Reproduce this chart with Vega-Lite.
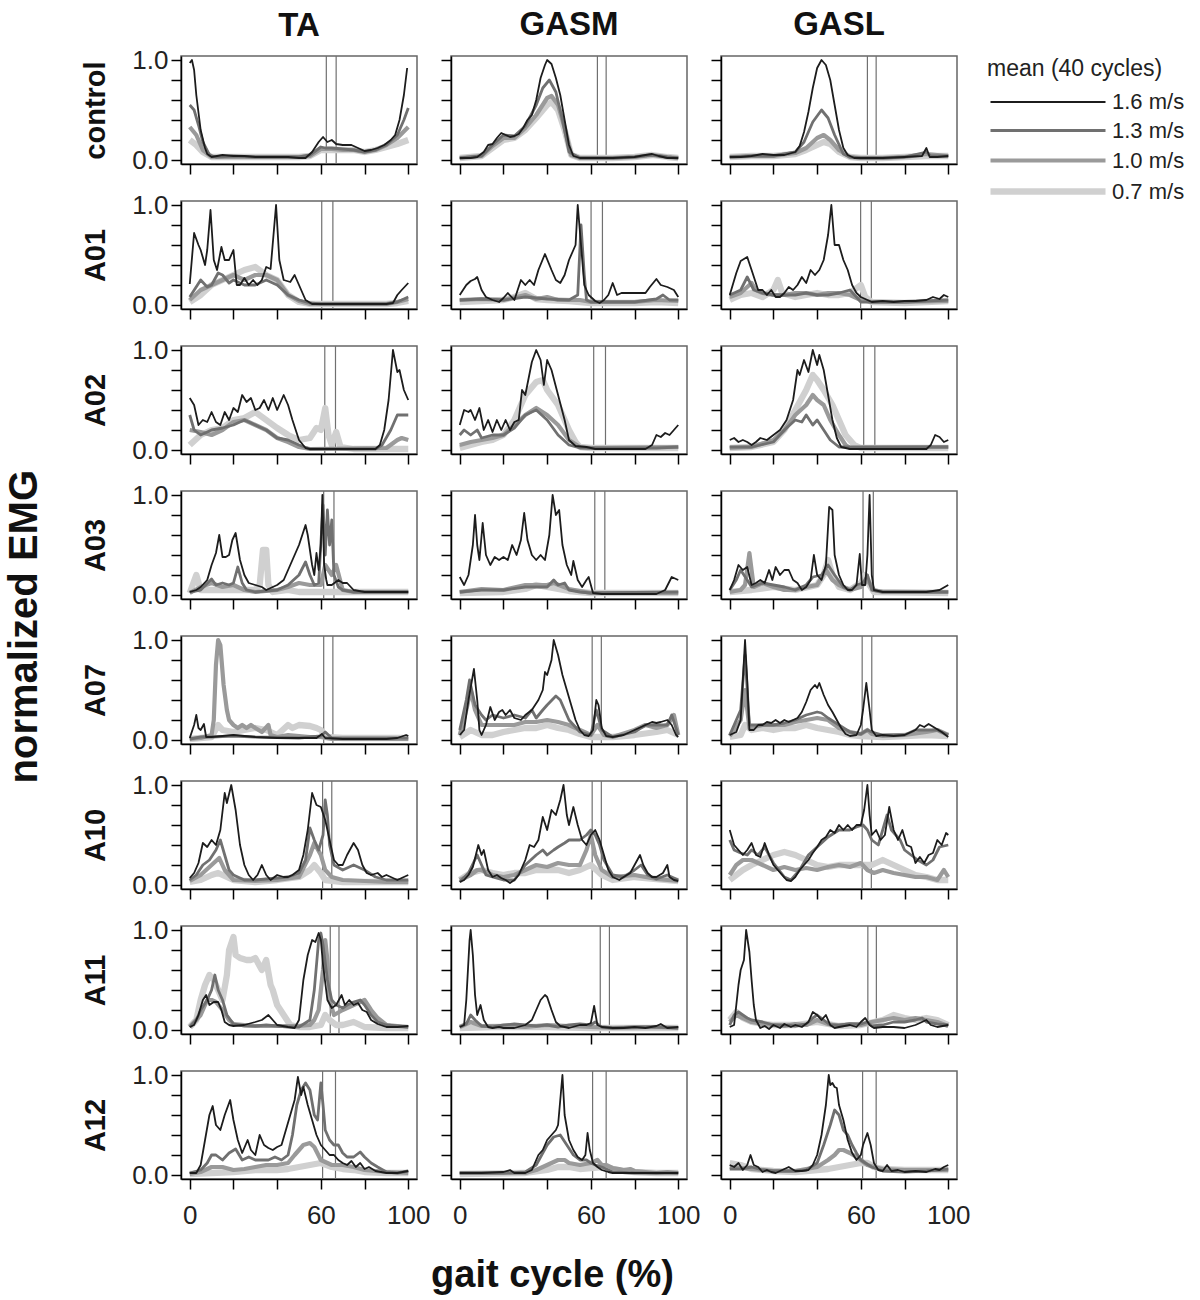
{
"$schema":"https://vega.github.io/schema/vega-lite/v6.json",
"padding":{"left":5,"top":8,"right":5,"bottom":5},
"data":{"format":{"type":"csv","parse":{"x":"number","y":"number"}},"values":"p,s,x,y\ncT,r,62.5,\ncT,r,67,\ncT,a,0,.2\ncT,a,3,.15\ncT,a,6,.08\ncT,a,10,.03\ncT,a,20,.03\ncT,a,30,.03\ncT,a,40,.03\ncT,a,50,.03\ncT,a,55,.04\ncT,a,60,.1\ncT,a,65,.1\ncT,a,70,.1\ncT,a,75,.1\ncT,a,80,.08\ncT,a,85,.1\ncT,a,90,.13\ncT,a,95,.16\ncT,a,100,.2\ncT,b,0,.33\ncT,b,3,.25\ncT,b,6,.1\ncT,b,10,.03\ncT,b,20,.03\ncT,b,30,.03\ncT,b,40,.03\ncT,b,50,.03\ncT,b,55,.04\ncT,b,60,.11\ncT,b,65,.11\ncT,b,70,.1\ncT,b,75,.1\ncT,b,80,.08\ncT,b,85,.1\ncT,b,90,.15\ncT,b,95,.22\ncT,b,100,.33\ncT,c,0,.55\ncT,c,2,.5\ncT,c,4,.35\ncT,c,6,.18\ncT,c,9,.05\ncT,c,12,.03\ncT,c,20,.04\ncT,c,30,.03\ncT,c,40,.03\ncT,c,50,.03\ncT,c,55,.05\ncT,c,60,.13\ncT,c,62,.12\ncT,c,65,.12\ncT,c,70,.11\ncT,c,75,.1\ncT,c,80,.08\ncT,c,85,.1\ncT,c,90,.15\ncT,c,95,.25\ncT,c,98,.4\ncT,c,100,.52\ncT,d,0,.97\ncT,d,1,1\ncT,d,2,.9\ncT,d,3,.65\ncT,d,5,.3\ncT,d,7,.12\ncT,d,8,.06\ncT,d,10,.03\ncT,d,15,.05\ncT,d,20,.04\ncT,d,25,.04\ncT,d,30,.03\ncT,d,35,.03\ncT,d,40,.03\ncT,d,45,.03\ncT,d,50,.02\ncT,d,53,.02\ncT,d,56,.08\ncT,d,59,.18\ncT,d,61,.23\ncT,d,63,.18\ncT,d,65,.2\ncT,d,67,.16\ncT,d,70,.15\ncT,d,74,.15\ncT,d,77,.12\ncT,d,80,.09\ncT,d,83,.1\ncT,d,86,.12\ncT,d,89,.15\ncT,d,92,.2\ncT,d,94,.25\ncT,d,96,.4\ncT,d,98,.65\ncT,d,99.5,.92\ncM,r,63,\ncM,r,67,\ncM,a,0,.02\ncM,a,10,.04\ncM,a,15,.12\ncM,a,20,.2\ncM,a,25,.22\ncM,a,30,.3\ncM,a,35,.42\ncM,a,40,.55\ncM,a,42,.58\ncM,a,45,.5\ncM,a,48,.3\ncM,a,51,.05\ncM,a,55,.02\ncM,a,60,.02\ncM,a,70,.02\ncM,a,80,.03\ncM,a,88,.05\ncM,a,95,.03\ncM,a,100,.02\ncM,b,0,.02\ncM,b,10,.04\ncM,b,15,.14\ncM,b,20,.22\ncM,b,25,.22\ncM,b,30,.32\ncM,b,35,.45\ncM,b,40,.62\ncM,b,42,.64\ncM,b,45,.55\ncM,b,48,.32\ncM,b,51,.05\ncM,b,55,.02\ncM,b,60,.02\ncM,b,70,.02\ncM,b,80,.03\ncM,b,88,.05\ncM,b,95,.03\ncM,b,100,.02\ncM,c,0,.02\ncM,c,10,.04\ncM,c,15,.15\ncM,c,20,.25\ncM,c,25,.24\ncM,c,30,.34\ncM,c,35,.55\ncM,c,38,.72\ncM,c,41,.8\ncM,c,44,.68\ncM,c,47,.4\ncM,c,50,.08\ncM,c,55,.02\ncM,c,60,.02\ncM,c,70,.02\ncM,c,80,.03\ncM,c,88,.05\ncM,c,95,.03\ncM,c,100,.02\ncM,d,0,.02\ncM,d,5,.02\ncM,d,8,.03\ncM,d,11,.08\ncM,d,13,.15\ncM,d,15,.16\ncM,d,17,.22\ncM,d,19,.27\ncM,d,21,.25\ncM,d,23,.23\ncM,d,25,.24\ncM,d,27,.26\ncM,d,29,.32\ncM,d,31,.4\ncM,d,33,.45\ncM,d,35,.6\ncM,d,37,.82\ncM,d,39,.95\ncM,d,40,1\ncM,d,42,.96\ncM,d,44,.82\ncM,d,46,.65\ncM,d,48,.4\ncM,d,50,.15\ncM,d,52,.04\ncM,d,55,.02\ncM,d,60,.02\ncM,d,70,.02\ncM,d,80,.03\ncM,d,85,.05\ncM,d,88,.06\ncM,d,91,.04\ncM,d,95,.02\ncM,d,100,.02\ncL,r,63,\ncL,r,67,\ncL,a,0,.03\ncL,a,10,.04\ncL,a,20,.04\ncL,a,30,.06\ncL,a,35,.1\ncL,a,40,.15\ncL,a,43,.18\ncL,a,46,.16\ncL,a,50,.08\ncL,a,55,.03\ncL,a,60,.02\ncL,a,70,.02\ncL,a,80,.03\ncL,a,90,.04\ncL,a,100,.04\ncL,b,0,.03\ncL,b,10,.04\ncL,b,20,.04\ncL,b,30,.07\ncL,b,35,.12\ncL,b,40,.22\ncL,b,43,.25\ncL,b,46,.2\ncL,b,50,.1\ncL,b,55,.03\ncL,b,60,.02\ncL,b,70,.02\ncL,b,80,.03\ncL,b,90,.06\ncL,b,100,.04\ncL,c,0,.03\ncL,c,10,.04\ncL,c,20,.04\ncL,c,30,.08\ncL,c,34,.18\ncL,c,38,.38\ncL,c,42,.5\ncL,c,45,.42\ncL,c,48,.25\ncL,c,52,.06\ncL,c,55,.03\ncL,c,60,.02\ncL,c,70,.02\ncL,c,80,.03\ncL,c,90,.08\ncL,c,92,.04\ncL,c,100,.04\ncL,d,0,.03\ncL,d,5,.03\ncL,d,10,.04\ncL,d,15,.06\ncL,d,20,.05\ncL,d,25,.05\ncL,d,30,.08\ncL,d,32,.14\ncL,d,34,.28\ncL,d,36,.48\ncL,d,38,.72\ncL,d,40,.92\ncL,d,42,1\ncL,d,44,.95\ncL,d,46,.8\ncL,d,48,.55\ncL,d,50,.3\ncL,d,52,.12\ncL,d,54,.05\ncL,d,57,.02\ncL,d,60,.02\ncL,d,70,.02\ncL,d,80,.03\ncL,d,88,.04\ncL,d,90,.12\ncL,d,91.5,.03\ncL,d,95,.03\ncL,d,100,.04\n1T,r,60.4,\n1T,r,65.5,\n1T,a,0,.03\n1T,a,5,.1\n1T,a,10,.2\n1T,a,15,.25\n1T,a,20,.3\n1T,a,25,.35\n1T,a,30,.38\n1T,a,35,.3\n1T,a,40,.25\n1T,a,45,.1\n1T,a,50,.03\n1T,a,55,.01\n1T,a,70,.01\n1T,a,90,.01\n1T,a,95,.02\n1T,a,100,.04\n1T,b,0,.05\n1T,b,5,.15\n1T,b,10,.2\n1T,b,15,.25\n1T,b,20,.3\n1T,b,25,.25\n1T,b,30,.3\n1T,b,35,.3\n1T,b,40,.25\n1T,b,45,.1\n1T,b,50,.04\n1T,b,55,.01\n1T,b,70,.01\n1T,b,90,.01\n1T,b,95,.03\n1T,b,100,.06\n1T,c,0,.08\n1T,c,5,.25\n1T,c,8,.18\n1T,c,10,.2\n1T,c,13,.32\n1T,c,15,.3\n1T,c,18,.22\n1T,c,20,.25\n1T,c,25,.2\n1T,c,30,.2\n1T,c,35,.25\n1T,c,38,.22\n1T,c,40,.2\n1T,c,45,.1\n1T,c,50,.05\n1T,c,55,.02\n1T,c,60,.01\n1T,c,90,.01\n1T,c,95,.03\n1T,c,100,.08\n1T,d,0,.21\n1T,d,2,.72\n1T,d,4,.6\n1T,d,5,.55\n1T,d,7,.4\n1T,d,8,.55\n1T,d,9.5,.95\n1T,d,11,.45\n1T,d,12.5,.35\n1T,d,14.5,.58\n1T,d,16,.45\n1T,d,18,.45\n1T,d,20,.55\n1T,d,21.5,.2\n1T,d,23,.2\n1T,d,25,.27\n1T,d,27,.2\n1T,d,29,.25\n1T,d,31,.2\n1T,d,33,.25\n1T,d,35,.38\n1T,d,37,.36\n1T,d,39.5,1\n1T,d,41,.45\n1T,d,43,.25\n1T,d,46,.23\n1T,d,48,.3\n1T,d,50,.2\n1T,d,53,.05\n1T,d,56,.01\n1T,d,70,.01\n1T,d,90,.01\n1T,d,93,.02\n1T,d,95,.1\n1T,d,97,.15\n1T,d,100,.22\n1M,r,60.1,\n1M,r,65.3,\n1M,a,0,.03\n1M,a,10,.04\n1M,a,20,.05\n1M,a,25,.08\n1M,a,30,.12\n1M,a,35,.06\n1M,a,40,.05\n1M,a,50,.04\n1M,a,55,.03\n1M,a,60,.02\n1M,a,80,.02\n1M,a,90,.03\n1M,a,100,.02\n1M,b,0,.05\n1M,b,10,.06\n1M,b,20,.05\n1M,b,30,.1\n1M,b,35,.06\n1M,b,40,.08\n1M,b,45,.05\n1M,b,55,.05\n1M,b,60,.03\n1M,b,80,.03\n1M,b,90,.05\n1M,b,100,.04\n1M,c,0,.05\n1M,c,10,.06\n1M,c,20,.05\n1M,c,30,.08\n1M,c,40,.06\n1M,c,50,.05\n1M,c,54,.1\n1M,c,55.5,.8\n1M,c,57,.3\n1M,c,58,.05\n1M,c,60,.03\n1M,c,80,.03\n1M,c,90,.06\n1M,c,93,.1\n1M,c,96,.05\n1M,c,100,.05\n1M,d,0,.1\n1M,d,3,.2\n1M,d,5,.24\n1M,d,7,.26\n1M,d,8,.28\n1M,d,10,.15\n1M,d,12,.08\n1M,d,15,.05\n1M,d,18,.03\n1M,d,20,.07\n1M,d,22,.12\n1M,d,25,.05\n1M,d,28,.25\n1M,d,30,.2\n1M,d,32,.25\n1M,d,34,.2\n1M,d,36,.35\n1M,d,39,.51\n1M,d,42,.35\n1M,d,44,.25\n1M,d,46,.22\n1M,d,48,.3\n1M,d,50,.45\n1M,d,52,.55\n1M,d,53,.6\n1M,d,54,1\n1M,d,55.5,.6\n1M,d,57,.2\n1M,d,59,.1\n1M,d,62,.04\n1M,d,64,.02\n1M,d,66,.05\n1M,d,68,.1\n1M,d,70,.22\n1M,d,72,.1\n1M,d,74,.12\n1M,d,80,.12\n1M,d,85,.12\n1M,d,87,.18\n1M,d,90,.26\n1M,d,92,.2\n1M,d,95,.18\n1M,d,98,.15\n1M,d,100,.08\n1L,r,59.9,\n1L,r,64.8,\n1L,a,0,.05\n1L,a,5,.1\n1L,a,10,.12\n1L,a,15,.08\n1L,a,20,.15\n1L,a,22,.25\n1L,a,24,.12\n1L,a,30,.08\n1L,a,35,.1\n1L,a,40,.12\n1L,a,45,.1\n1L,a,50,.1\n1L,a,55,.12\n1L,a,60,.2\n1L,a,62,.08\n1L,a,65,.03\n1L,a,80,.02\n1L,a,90,.03\n1L,a,100,.04\n1L,b,0,.08\n1L,b,5,.12\n1L,b,10,.22\n1L,b,12,.15\n1L,b,15,.12\n1L,b,20,.1\n1L,b,25,.1\n1L,b,30,.12\n1L,b,35,.12\n1L,b,40,.1\n1L,b,45,.12\n1L,b,50,.12\n1L,b,55,.1\n1L,b,60,.05\n1L,b,65,.03\n1L,b,80,.03\n1L,b,100,.04\n1L,c,0,.1\n1L,c,5,.15\n1L,c,8,.28\n1L,c,11,.15\n1L,c,15,.12\n1L,c,20,.1\n1L,c,25,.1\n1L,c,30,.1\n1L,c,35,.12\n1L,c,40,.1\n1L,c,45,.1\n1L,c,50,.12\n1L,c,55,.15\n1L,c,58,.08\n1L,c,60,.03\n1L,c,80,.03\n1L,c,90,.04\n1L,c,100,.05\n1L,d,0,.1\n1L,d,3,.32\n1L,d,5,.44\n1L,d,8,.48\n1L,d,10,.35\n1L,d,13,.15\n1L,d,15,.15\n1L,d,17,.1\n1L,d,19,.15\n1L,d,21,.08\n1L,d,23,.08\n1L,d,25,.12\n1L,d,27,.18\n1L,d,29,.15\n1L,d,31,.2\n1L,d,33,.28\n1L,d,35,.22\n1L,d,37,.35\n1L,d,39,.3\n1L,d,41,.35\n1L,d,43,.45\n1L,d,45,.7\n1L,d,46.5,1\n1L,d,48,.6\n1L,d,50,.6\n1L,d,52,.45\n1L,d,54,.35\n1L,d,56,.2\n1L,d,58,.12\n1L,d,60,.08\n1L,d,63,.05\n1L,d,65,.03\n1L,d,70,.04\n1L,d,75,.03\n1L,d,80,.04\n1L,d,85,.04\n1L,d,90,.05\n1L,d,93,.08\n1L,d,96,.06\n1L,d,98,.1\n1L,d,100,.08\n2T,r,61.8,\n2T,r,66.7,\n2T,a,0,.05\n2T,a,5,.15\n2T,a,10,.2\n2T,a,15,.22\n2T,a,20,.3\n2T,a,25,.32\n2T,a,30,.38\n2T,a,35,.3\n2T,a,40,.22\n2T,a,45,.15\n2T,a,50,.1\n2T,a,55,.12\n2T,a,58,.22\n2T,a,60,.2\n2T,a,62,.42\n2T,a,63.5,.15\n2T,a,65,.05\n2T,a,67,.18\n2T,a,69,.03\n2T,a,75,.01\n2T,a,100,.01\n2T,b,0,.2\n2T,b,5,.18\n2T,b,10,.15\n2T,b,15,.2\n2T,b,20,.28\n2T,b,25,.3\n2T,b,30,.25\n2T,b,35,.2\n2T,b,40,.12\n2T,b,45,.08\n2T,b,50,.03\n2T,b,55,.01\n2T,b,90,.02\n2T,b,95,.1\n2T,b,97,.12\n2T,b,100,.1\n2T,c,0,.35\n2T,c,2,.2\n2T,c,5,.15\n2T,c,10,.2\n2T,c,15,.22\n2T,c,20,.25\n2T,c,25,.3\n2T,c,30,.25\n2T,c,35,.2\n2T,c,40,.12\n2T,c,45,.1\n2T,c,50,.05\n2T,c,55,.01\n2T,c,85,.01\n2T,c,88,.05\n2T,c,92,.2\n2T,c,95,.35\n2T,c,100,.35\n2T,d,0,.52\n2T,d,2,.45\n2T,d,4,.25\n2T,d,6,.3\n2T,d,8,.28\n2T,d,10,.38\n2T,d,12,.28\n2T,d,14,.25\n2T,d,16,.38\n2T,d,18,.3\n2T,d,20,.42\n2T,d,22,.38\n2T,d,24,.55\n2T,d,26,.48\n2T,d,28,.52\n2T,d,30,.4\n2T,d,32,.42\n2T,d,34,.5\n2T,d,36,.4\n2T,d,38,.52\n2T,d,40,.4\n2T,d,43,.55\n2T,d,45,.45\n2T,d,47,.3\n2T,d,50,.1\n2T,d,53,.02\n2T,d,55,.01\n2T,d,85,.01\n2T,d,87,.05\n2T,d,89,.2\n2T,d,91,.5\n2T,d,93,1\n2T,d,95,.78\n2T,d,96,.8\n2T,d,98,.6\n2T,d,100,.5\n2M,r,61.3,\n2M,r,66.7,\n2M,a,0,.02\n2M,a,5,.05\n2M,a,10,.08\n2M,a,15,.1\n2M,a,20,.15\n2M,a,25,.3\n2M,a,30,.55\n2M,a,35,.68\n2M,a,38,.7\n2M,a,40,.6\n2M,a,45,.45\n2M,a,50,.2\n2M,a,53,.08\n2M,a,55,.03\n2M,a,60,.02\n2M,a,100,.02\n2M,b,0,.05\n2M,b,5,.08\n2M,b,10,.1\n2M,b,15,.12\n2M,b,20,.15\n2M,b,25,.25\n2M,b,30,.35\n2M,b,35,.42\n2M,b,40,.35\n2M,b,45,.25\n2M,b,50,.1\n2M,b,55,.03\n2M,b,60,.02\n2M,b,100,.03\n2M,c,0,.15\n2M,c,2,.2\n2M,c,5,.15\n2M,c,8,.2\n2M,c,10,.12\n2M,c,15,.15\n2M,c,20,.15\n2M,c,25,.22\n2M,c,30,.35\n2M,c,35,.4\n2M,c,40,.3\n2M,c,45,.15\n2M,c,50,.05\n2M,c,55,.02\n2M,c,90,.02\n2M,c,100,.03\n2M,d,0,.25\n2M,d,2,.4\n2M,d,4,.38\n2M,d,5,.4\n2M,d,7,.3\n2M,d,9,.42\n2M,d,11,.2\n2M,d,13,.3\n2M,d,15,.18\n2M,d,17,.3\n2M,d,19,.2\n2M,d,21,.3\n2M,d,23,.2\n2M,d,25,.28\n2M,d,27,.3\n2M,d,28.5,.6\n2M,d,30,.55\n2M,d,33,.88\n2M,d,35,1\n2M,d,37,.9\n2M,d,38.5,.65\n2M,d,40,.9\n2M,d,42,.8\n2M,d,45,.55\n2M,d,48,.3\n2M,d,50,.1\n2M,d,53,.04\n2M,d,58,.03\n2M,d,62,.01\n2M,d,85,.01\n2M,d,88,.05\n2M,d,90,.15\n2M,d,92,.13\n2M,d,94,.17\n2M,d,96,.15\n2M,d,98,.2\n2M,d,100,.25\n2L,r,61.3,\n2L,r,66.4,\n2L,a,0,.02\n2L,a,10,.03\n2L,a,20,.08\n2L,a,25,.2\n2L,a,30,.4\n2L,a,35,.6\n2L,a,38,.75\n2L,a,40,.7\n2L,a,43,.6\n2L,a,47,.45\n2L,a,50,.3\n2L,a,53,.15\n2L,a,57,.05\n2L,a,60,.02\n2L,a,100,.02\n2L,b,0,.02\n2L,b,10,.03\n2L,b,20,.1\n2L,b,25,.2\n2L,b,30,.35\n2L,b,35,.45\n2L,b,38,.55\n2L,b,40,.5\n2L,b,43,.45\n2L,b,46,.3\n2L,b,50,.15\n2L,b,53,.05\n2L,b,55,.02\n2L,b,100,.03\n2L,c,0,.03\n2L,c,10,.03\n2L,c,20,.08\n2L,c,25,.2\n2L,c,30,.3\n2L,c,33,.28\n2L,c,35,.35\n2L,c,38,.25\n2L,c,40,.3\n2L,c,43,.2\n2L,c,46,.1\n2L,c,50,.03\n2L,c,100,.03\n2L,d,0,.1\n2L,d,2,.12\n2L,d,4,.08\n2L,d,6,.1\n2L,d,8,.08\n2L,d,10,.05\n2L,d,12,.08\n2L,d,14,.12\n2L,d,17,.1\n2L,d,20,.15\n2L,d,23,.2\n2L,d,26,.3\n2L,d,29,.5\n2L,d,31,.8\n2L,d,32,.75\n2L,d,34,.9\n2L,d,36,.78\n2L,d,38,1\n2L,d,40,.85\n2L,d,41,.95\n2L,d,43,.8\n2L,d,45,.55\n2L,d,47,.3\n2L,d,49,.12\n2L,d,51,.03\n2L,d,55,.01\n2L,d,90,.01\n2L,d,92,.05\n2L,d,94,.15\n2L,d,96,.13\n2L,d,98,.08\n2L,d,100,.1\n3T,r,61.3,\n3T,r,66,\n3T,a,0,.02\n3T,a,3,.2\n3T,a,5,.05\n3T,a,10,.05\n3T,a,20,.05\n3T,a,30,.05\n3T,a,32,.1\n3T,a,33.5,.45\n3T,a,35,.45\n3T,a,36,.1\n3T,a,38,.03\n3T,a,45,.05\n3T,a,50,.03\n3T,a,100,.03\n3T,b,0,.02\n3T,b,5,.08\n3T,b,10,.12\n3T,b,15,.08\n3T,b,20,.1\n3T,b,25,.05\n3T,b,30,.03\n3T,b,40,.05\n3T,b,45,.08\n3T,b,50,.12\n3T,b,55,.1\n3T,b,60,.1\n3T,b,62,.3\n3T,b,65,.2\n3T,b,67,.3\n3T,b,70,.05\n3T,b,75,.03\n3T,b,100,.03\n3T,c,0,.03\n3T,c,5,.05\n3T,c,10,.16\n3T,c,12,.1\n3T,c,15,.12\n3T,c,18,.1\n3T,c,20,.12\n3T,c,22,.28\n3T,c,24,.12\n3T,c,26,.05\n3T,c,30,.03\n3T,c,40,.05\n3T,c,45,.1\n3T,c,50,.2\n3T,c,53,.33\n3T,c,55,.2\n3T,c,57,.1\n3T,c,59,.12\n3T,c,61,.9\n3T,c,62,.4\n3T,c,63,.85\n3T,c,64,.5\n3T,c,65,.75\n3T,c,66,.2\n3T,c,68,.08\n3T,c,70,.05\n3T,c,75,.03\n3T,c,100,.03\n3T,d,0,.03\n3T,d,3,.05\n3T,d,5,.08\n3T,d,8,.15\n3T,d,10,.3\n3T,d,12,.42\n3T,d,13.5,.6\n3T,d,15,.38\n3T,d,16.5,.38\n3T,d,18,.4\n3T,d,19.5,.55\n3T,d,21,.62\n3T,d,23,.35\n3T,d,25,.2\n3T,d,27,.12\n3T,d,30,.1\n3T,d,33,.08\n3T,d,35,.05\n3T,d,38,.08\n3T,d,40,.1\n3T,d,43,.15\n3T,d,47,.35\n3T,d,50,.5\n3T,d,53,.7\n3T,d,54,.6\n3T,d,56,.3\n3T,d,57,.2\n3T,d,58,.42\n3T,d,59,.25\n3T,d,60,.5\n3T,d,60.7,1\n3T,d,61.5,.3\n3T,d,62.5,.15\n3T,d,63,.1\n3T,d,65,.1\n3T,d,68,.15\n3T,d,70,.12\n3T,d,72,.12\n3T,d,75,.05\n3T,d,80,.03\n3T,d,100,.03\n3M,r,61.8,\n3M,r,66.4,\n3M,a,0,.02\n3M,a,20,.03\n3M,a,30,.06\n3M,a,35,.1\n3M,a,40,.08\n3M,a,50,.04\n3M,a,60,.02\n3M,a,100,.02\n3M,b,0,.03\n3M,b,10,.06\n3M,b,20,.05\n3M,b,30,.1\n3M,b,40,.1\n3M,b,43,.12\n3M,b,50,.06\n3M,b,60,.02\n3M,b,100,.02\n3M,c,0,.03\n3M,c,10,.05\n3M,c,20,.05\n3M,c,30,.08\n3M,c,40,.08\n3M,c,43,.15\n3M,c,45,.1\n3M,c,48,.12\n3M,c,50,.05\n3M,c,55,.03\n3M,c,60,.02\n3M,c,100,.03\n3M,d,0,.18\n3M,d,2,.1\n3M,d,4,.2\n3M,d,6,.5\n3M,d,7,.8\n3M,d,8,.5\n3M,d,9,.35\n3M,d,10.5,.72\n3M,d,12,.4\n3M,d,14,.3\n3M,d,16,.38\n3M,d,18,.35\n3M,d,20,.38\n3M,d,22,.35\n3M,d,24,.5\n3M,d,26,.4\n3M,d,28,.55\n3M,d,29.5,.82\n3M,d,31,.55\n3M,d,33,.4\n3M,d,35,.35\n3M,d,37,.4\n3M,d,39,.35\n3M,d,41,.6\n3M,d,42.5,1\n3M,d,44,.8\n3M,d,45.5,.85\n3M,d,47,.5\n3M,d,49,.3\n3M,d,51,.2\n3M,d,52,.34\n3M,d,54,.15\n3M,d,56,.08\n3M,d,58,.15\n3M,d,59,.18\n3M,d,61,.02\n3M,d,65,.01\n3M,d,90,.01\n3M,d,94,.05\n3M,d,97,.18\n3M,d,100,.15\n3L,r,61,\n3L,r,65.7,\n3L,a,0,.03\n3L,a,10,.05\n3L,a,20,.08\n3L,a,30,.05\n3L,a,40,.1\n3L,a,43,.2\n3L,a,45,.35\n3L,a,47,.2\n3L,a,50,.08\n3L,a,55,.05\n3L,a,60,.12\n3L,a,62,.2\n3L,a,64,.1\n3L,a,66,.03\n3L,a,100,.02\n3L,b,0,.03\n3L,b,5,.05\n3L,b,7,.1\n3L,b,9,.42\n3L,b,11,.08\n3L,b,15,.12\n3L,b,20,.08\n3L,b,25,.05\n3L,b,30,.05\n3L,b,35,.08\n3L,b,40,.1\n3L,b,44,.25\n3L,b,47,.15\n3L,b,50,.1\n3L,b,55,.05\n3L,b,60,.08\n3L,b,63,.15\n3L,b,66,.05\n3L,b,70,.03\n3L,b,100,.03\n3L,c,0,.05\n3L,c,3,.15\n3L,c,5,.25\n3L,c,8,.15\n3L,c,10,.08\n3L,c,15,.12\n3L,c,20,.1\n3L,c,25,.08\n3L,c,30,.05\n3L,c,35,.1\n3L,c,38,.18\n3L,c,42,.2\n3L,c,45,.3\n3L,c,48,.2\n3L,c,52,.08\n3L,c,55,.05\n3L,c,58,.1\n3L,c,61,.12\n3L,c,63,.2\n3L,c,65,.05\n3L,c,70,.03\n3L,c,100,.03\n3L,d,0,.05\n3L,d,2,.15\n3L,d,4,.3\n3L,d,6,.25\n3L,d,8,.28\n3L,d,10,.1\n3L,d,12,.12\n3L,d,14,.15\n3L,d,16,.12\n3L,d,18,.25\n3L,d,19.5,.15\n3L,d,21,.28\n3L,d,23,.2\n3L,d,25,.25\n3L,d,27,.25\n3L,d,29,.15\n3L,d,31,.12\n3L,d,33,.05\n3L,d,35,.08\n3L,d,37,.15\n3L,d,38.5,.4\n3L,d,40,.2\n3L,d,42,.15\n3L,d,44,.3\n3L,d,45.5,.88\n3L,d,47,.85\n3L,d,48,.4\n3L,d,50,.2\n3L,d,52,.1\n3L,d,54,.05\n3L,d,56,.05\n3L,d,58,.1\n3L,d,59.5,.41\n3L,d,60.5,.1\n3L,d,62,.1\n3L,d,63,.4\n3L,d,64,1\n3L,d,65,.2\n3L,d,66,.05\n3L,d,70,.03\n3L,d,90,.03\n3L,d,96,.05\n3L,d,100,.1\n7T,r,61.3,\n7T,r,65.5,\n7T,a,0,.01\n7T,a,10,.03\n7T,a,13,.15\n7T,a,15,.1\n7T,a,20,.08\n7T,a,25,.1\n7T,a,30,.12\n7T,a,35,.1\n7T,a,40,.05\n7T,a,45,.15\n7T,a,47,.12\n7T,a,50,.15\n7T,a,55,.14\n7T,a,58,.12\n7T,a,60,.1\n7T,a,62,.03\n7T,a,70,.02\n7T,a,100,.02\n7T,b,0,.01\n7T,b,5,.02\n7T,b,10,.05\n7T,b,11,.2\n7T,b,12,.75\n7T,b,13,1\n7T,b,14,.95\n7T,b,15.5,.55\n7T,b,17,.3\n7T,b,18,.2\n7T,b,20,.15\n7T,b,22,.12\n7T,b,24,.15\n7T,b,26,.12\n7T,b,28,.15\n7T,b,30,.12\n7T,b,33,.08\n7T,b,36,.15\n7T,b,37,.05\n7T,b,40,.03\n7T,b,45,.05\n7T,b,50,.04\n7T,b,55,.03\n7T,b,60,.03\n7T,b,65,.01\n7T,b,100,.01\n7T,c,0,.01\n7T,c,5,.03\n7T,c,10,.03\n7T,c,20,.04\n7T,c,30,.03\n7T,c,50,.02\n7T,c,60,.04\n7T,c,62,.08\n7T,c,65,.02\n7T,c,100,.02\n7T,d,0,.02\n7T,d,2,.15\n7T,d,3,.25\n7T,d,4,.12\n7T,d,5,.1\n7T,d,6.5,.16\n7T,d,7.5,.03\n7T,d,10,.03\n7T,d,15,.04\n7T,d,20,.05\n7T,d,25,.04\n7T,d,30,.03\n7T,d,40,.02\n7T,d,58,.02\n7T,d,60.5,.06\n7T,d,62,.02\n7T,d,70,.01\n7T,d,90,.01\n7T,d,95,.02\n7T,d,99,.05\n7T,d,100,.04\n7M,r,60.6,\n7M,r,64.8,\n7M,a,0,.03\n7M,a,5,.1\n7M,a,10,.05\n7M,a,15,.05\n7M,a,20,.08\n7M,a,25,.1\n7M,a,30,.12\n7M,a,35,.12\n7M,a,40,.15\n7M,a,45,.12\n7M,a,50,.1\n7M,a,55,.06\n7M,a,60,.03\n7M,a,70,.03\n7M,a,80,.05\n7M,a,90,.08\n7M,a,95,.1\n7M,a,100,.05\n7M,b,0,.05\n7M,b,3,.3\n7M,b,5,.5\n7M,b,7,.3\n7M,b,10,.15\n7M,b,15,.15\n7M,b,20,.15\n7M,b,25,.15\n7M,b,30,.18\n7M,b,35,.18\n7M,b,40,.2\n7M,b,45,.18\n7M,b,50,.15\n7M,b,55,.1\n7M,b,60,.05\n7M,b,63,.15\n7M,b,66,.05\n7M,b,70,.03\n7M,b,80,.1\n7M,b,85,.15\n7M,b,90,.12\n7M,b,95,.15\n7M,b,98,.25\n7M,b,100,.05\n7M,c,0,.1\n7M,c,3,.4\n7M,c,4.5,.6\n7M,c,7,.35\n7M,c,10,.25\n7M,c,12,.2\n7M,c,15,.25\n7M,c,20,.22\n7M,c,25,.25\n7M,c,30,.22\n7M,c,33,.3\n7M,c,35,.22\n7M,c,38,.3\n7M,c,40,.35\n7M,c,44,.44\n7M,c,46,.4\n7M,c,48,.3\n7M,c,50,.2\n7M,c,55,.08\n7M,c,60,.05\n7M,c,62.5,.3\n7M,c,65,.1\n7M,c,70,.03\n7M,c,80,.08\n7M,c,85,.15\n7M,c,90,.15\n7M,c,95,.15\n7M,c,97,.25\n7M,c,100,.05\n7M,d,0,.05\n7M,d,2,.1\n7M,d,4,.4\n7M,d,6.5,.71\n7M,d,8,.4\n7M,d,9,.1\n7M,d,10,.05\n7M,d,12,.15\n7M,d,14,.33\n7M,d,16,.2\n7M,d,18,.28\n7M,d,19.5,.3\n7M,d,21,.25\n7M,d,23,.3\n7M,d,25,.22\n7M,d,28,.2\n7M,d,30,.25\n7M,d,33,.3\n7M,d,36,.4\n7M,d,38,.5\n7M,d,39,.68\n7M,d,40,.65\n7M,d,42,.8\n7M,d,43,1\n7M,d,45,.85\n7M,d,47,.65\n7M,d,49,.5\n7M,d,51,.35\n7M,d,53,.2\n7M,d,55,.1\n7M,d,57,.05\n7M,d,59,.04\n7M,d,61,.1\n7M,d,62.5,.4\n7M,d,63.5,.35\n7M,d,65,.12\n7M,d,67,.04\n7M,d,70,.03\n7M,d,75,.05\n7M,d,80,.1\n7M,d,85,.15\n7M,d,88,.18\n7M,d,90,.17\n7M,d,92,.18\n7M,d,95,.2\n7M,d,97,.15\n7M,d,99,.05\n7M,d,100,.03\n7L,r,60.6,\n7L,r,65,\n7L,a,0,.03\n7L,a,5,.05\n7L,a,7,.15\n7L,a,10,.1\n7L,a,15,.12\n7L,a,20,.1\n7L,a,25,.12\n7L,a,30,.12\n7L,a,35,.15\n7L,a,40,.12\n7L,a,45,.1\n7L,a,50,.08\n7L,a,55,.05\n7L,a,60,.04\n7L,a,70,.03\n7L,a,80,.04\n7L,a,90,.05\n7L,a,100,.04\n7L,b,0,.04\n7L,b,5,.2\n7L,b,7,.5\n7L,b,9,.12\n7L,b,15,.15\n7L,b,20,.15\n7L,b,25,.15\n7L,b,30,.18\n7L,b,35,.2\n7L,b,40,.22\n7L,b,45,.2\n7L,b,50,.12\n7L,b,55,.08\n7L,b,60,.06\n7L,b,63,.1\n7L,b,65,.06\n7L,b,70,.04\n7L,b,80,.05\n7L,b,90,.08\n7L,b,95,.1\n7L,b,100,.05\n7L,c,0,.05\n7L,c,5,.3\n7L,c,7,.85\n7L,c,9,.15\n7L,c,12,.15\n7L,c,15,.15\n7L,c,20,.15\n7L,c,25,.17\n7L,c,30,.2\n7L,c,35,.25\n7L,c,40,.28\n7L,c,42,.27\n7L,c,45,.22\n7L,c,50,.15\n7L,c,55,.08\n7L,c,60,.06\n7L,c,63,.1\n7L,c,65,.08\n7L,c,70,.05\n7L,c,80,.05\n7L,c,85,.1\n7L,c,90,.1\n7L,c,95,.1\n7L,c,100,.05\n7L,d,0,.05\n7L,d,3,.08\n7L,d,5,.2\n7L,d,6,.6\n7L,d,7,1\n7L,d,8,.6\n7L,d,9,.1\n7L,d,11,.1\n7L,d,13,.15\n7L,d,15,.15\n7L,d,17,.18\n7L,d,19,.17\n7L,d,21,.2\n7L,d,23,.17\n7L,d,25,.2\n7L,d,27,.18\n7L,d,29,.2\n7L,d,31,.22\n7L,d,33,.28\n7L,d,35,.38\n7L,d,37,.5\n7L,d,39,.55\n7L,d,40,.52\n7L,d,41,.57\n7L,d,43,.45\n7L,d,45,.35\n7L,d,47,.28\n7L,d,49,.2\n7L,d,51,.12\n7L,d,53,.06\n7L,d,55,.04\n7L,d,58,.05\n7L,d,60,.15\n7L,d,61,.3\n7L,d,62.5,.57\n7L,d,64,.3\n7L,d,65,.1\n7L,d,67,.04\n7L,d,70,.05\n7L,d,75,.04\n7L,d,80,.05\n7L,d,85,.1\n7L,d,87,.15\n7L,d,89,.13\n7L,d,91,.16\n7L,d,94,.12\n7L,d,97,.08\n7L,d,100,.03\n10T,r,60.8,\n10T,r,65,\n10T,a,0,.03\n10T,a,5,.05\n10T,a,10,.1\n10T,a,13,.12\n10T,a,15,.1\n10T,a,20,.05\n10T,a,30,.03\n10T,a,40,.05\n10T,a,50,.08\n10T,a,55,.15\n10T,a,57,.2\n10T,a,60,.12\n10T,a,62,.05\n10T,a,70,.03\n10T,a,100,.03\n10T,b,0,.04\n10T,b,5,.1\n10T,b,10,.2\n10T,b,13.5,.27\n10T,b,16,.15\n10T,b,20,.05\n10T,b,30,.04\n10T,b,40,.05\n10T,b,50,.08\n10T,b,55,.3\n10T,b,57,.42\n10T,b,60,.3\n10T,b,62,.15\n10T,b,65,.08\n10T,b,70,.05\n10T,b,80,.04\n10T,b,90,.03\n10T,b,100,.03\n10T,c,0,.05\n10T,c,3,.1\n10T,c,6,.2\n10T,c,9,.25\n10T,c,12,.35\n10T,c,14,.45\n10T,c,16,.3\n10T,c,18,.15\n10T,c,20,.1\n10T,c,25,.05\n10T,c,30,.05\n10T,c,35,.06\n10T,c,40,.07\n10T,c,45,.08\n10T,c,50,.12\n10T,c,53,.25\n10T,c,55,.57\n10T,c,57,.45\n10T,c,59,.35\n10T,c,61,.5\n10T,c,62,.85\n10T,c,63,.7\n10T,c,64,.4\n10T,c,66,.2\n10T,c,70,.15\n10T,c,75,.2\n10T,c,80,.15\n10T,c,85,.08\n10T,c,90,.05\n10T,c,100,.05\n10T,d,0,.07\n10T,d,2,.12\n10T,d,4,.22\n10T,d,6,.42\n10T,d,8,.38\n10T,d,10,.45\n10T,d,12,.4\n10T,d,14,.55\n10T,d,16,.92\n10T,d,17,.82\n10T,d,19,1\n10T,d,21,.75\n10T,d,23,.4\n10T,d,25,.2\n10T,d,27,.1\n10T,d,29,.05\n10T,d,31,.1\n10T,d,33,.2\n10T,d,35,.1\n10T,d,37,.05\n10T,d,40,.1\n10T,d,43,.08\n10T,d,45,.08\n10T,d,47,.1\n10T,d,50,.15\n10T,d,52,.3\n10T,d,54,.55\n10T,d,56,.92\n10T,d,58,.8\n10T,d,60,.78\n10T,d,62,.65\n10T,d,64,.45\n10T,d,66,.25\n10T,d,68,.2\n10T,d,70,.2\n10T,d,72,.3\n10T,d,75,.42\n10T,d,77,.35\n10T,d,79,.2\n10T,d,81,.12\n10T,d,83,.1\n10T,d,86,.12\n10T,d,88,.08\n10T,d,90,.1\n10T,d,92,.08\n10T,d,95,.05\n10T,d,98,.08\n10T,d,100,.1\n10M,r,60.6,\n10M,r,64.8,\n10M,a,0,.05\n10M,a,5,.12\n10M,a,10,.15\n10M,a,15,.12\n10M,a,20,.1\n10M,a,25,.12\n10M,a,30,.12\n10M,a,35,.15\n10M,a,40,.15\n10M,a,45,.15\n10M,a,50,.12\n10M,a,55,.15\n10M,a,60,.2\n10M,a,65,.1\n10M,a,70,.05\n10M,a,80,.08\n10M,a,90,.06\n10M,a,100,.04\n10M,b,0,.05\n10M,b,5,.1\n10M,b,8,.15\n10M,b,10,.15\n10M,b,15,.1\n10M,b,20,.08\n10M,b,25,.1\n10M,b,30,.15\n10M,b,35,.2\n10M,b,40,.18\n10M,b,45,.22\n10M,b,50,.2\n10M,b,55,.2\n10M,b,58,.35\n10M,b,60,.5\n10M,b,62,.3\n10M,b,65,.15\n10M,b,70,.08\n10M,b,80,.1\n10M,b,90,.06\n10M,b,100,.04\n10M,c,0,.03\n10M,c,4,.12\n10M,c,8,.3\n10M,c,10,.2\n10M,c,12,.1\n10M,c,15,.08\n10M,c,20,.05\n10M,c,25,.05\n10M,c,30,.2\n10M,c,35,.3\n10M,c,38,.35\n10M,c,40,.3\n10M,c,43,.35\n10M,c,45,.38\n10M,c,48,.42\n10M,c,50,.45\n10M,c,55,.45\n10M,c,58,.5\n10M,c,60,.55\n10M,c,62,.5\n10M,c,64,.4\n10M,c,66,.25\n10M,c,70,.1\n10M,c,75,.08\n10M,c,80,.15\n10M,c,83,.2\n10M,c,86,.1\n10M,c,90,.06\n10M,c,95,.1\n10M,c,100,.05\n10M,d,0,.03\n10M,d,2,.05\n10M,d,4,.1\n10M,d,6,.18\n10M,d,8.5,.4\n10M,d,10,.3\n10M,d,11,.35\n10M,d,13,.15\n10M,d,15,.08\n10M,d,17,.1\n10M,d,19,.07\n10M,d,21,.05\n10M,d,23,.02\n10M,d,25,.05\n10M,d,27,.1\n10M,d,30,.25\n10M,d,32,.4\n10M,d,34,.38\n10M,d,36,.45\n10M,d,38,.68\n10M,d,40,.55\n10M,d,42,.75\n10M,d,44,.7\n10M,d,46,.85\n10M,d,47.5,1\n10M,d,49,.7\n10M,d,50,.6\n10M,d,52,.78\n10M,d,54,.6\n10M,d,56,.45\n10M,d,58,.4\n10M,d,60,.5\n10M,d,62,.55\n10M,d,64,.45\n10M,d,66,.3\n10M,d,68,.15\n10M,d,70,.08\n10M,d,73,.05\n10M,d,75,.08\n10M,d,78,.12\n10M,d,80,.2\n10M,d,82.5,.3\n10M,d,84,.2\n10M,d,86,.12\n10M,d,88,.08\n10M,d,90,.08\n10M,d,93,.12\n10M,d,95,.2\n10M,d,96,.08\n10M,d,98,.05\n10M,d,100,.04\n10L,r,60.6,\n10L,r,64.8,\n10L,a,0,.05\n10L,a,3,.1\n10L,a,6,.15\n10L,a,10,.2\n10L,a,15,.25\n10L,a,20,.3\n10L,a,25,.33\n10L,a,30,.3\n10L,a,35,.25\n10L,a,40,.2\n10L,a,45,.18\n10L,a,50,.2\n10L,a,55,.2\n10L,a,60,.2\n10L,a,65,.2\n10L,a,70,.25\n10L,a,75,.2\n10L,a,80,.15\n10L,a,85,.1\n10L,a,90,.08\n10L,a,95,.05\n10L,a,100,.05\n10L,b,0,.1\n10L,b,3,.2\n10L,b,6,.25\n10L,b,10,.25\n10L,b,15,.2\n10L,b,20,.15\n10L,b,25,.18\n10L,b,30,.15\n10L,b,35,.17\n10L,b,40,.15\n10L,b,45,.18\n10L,b,50,.2\n10L,b,55,.18\n10L,b,60,.22\n10L,b,63,.15\n10L,b,66,.12\n10L,b,70,.15\n10L,b,75,.12\n10L,b,80,.1\n10L,b,85,.08\n10L,b,90,.08\n10L,b,95,.05\n10L,b,98,.15\n10L,b,100,.08\n10L,c,0,.45\n10L,c,2,.35\n10L,c,5,.32\n10L,c,8,.3\n10L,c,10,.35\n10L,c,13,.3\n10L,c,16,.38\n10L,c,20,.22\n10L,c,25,.08\n10L,c,28,.05\n10L,c,32,.15\n10L,c,36,.3\n10L,c,40,.38\n10L,c,45,.48\n10L,c,50,.55\n10L,c,55,.55\n10L,c,58,.58\n10L,c,61,.6\n10L,c,63,.55\n10L,c,65,.45\n10L,c,68,.4\n10L,c,70,.55\n10L,c,72,.7\n10L,c,74,.55\n10L,c,76,.5\n10L,c,78,.45\n10L,c,80,.35\n10L,c,83,.3\n10L,c,86,.25\n10L,c,90,.2\n10L,c,93,.25\n10L,c,96,.38\n10L,c,100,.4\n10L,d,0,.55\n10L,d,2,.4\n10L,d,4,.35\n10L,d,6,.3\n10L,d,8,.35\n10L,d,10,.42\n10L,d,12,.3\n10L,d,14,.28\n10L,d,16,.42\n10L,d,18,.3\n10L,d,20,.2\n10L,d,22,.15\n10L,d,24,.1\n10L,d,26,.05\n10L,d,28,.04\n10L,d,30,.08\n10L,d,32,.15\n10L,d,34,.2\n10L,d,36,.25\n10L,d,38,.32\n10L,d,40,.38\n10L,d,42,.45\n10L,d,44,.48\n10L,d,46,.55\n10L,d,48,.52\n10L,d,50,.6\n10L,d,52,.55\n10L,d,54,.6\n10L,d,56,.55\n10L,d,58,.6\n10L,d,60,.6\n10L,d,61.5,.75\n10L,d,63,1\n10L,d,64,.7\n10L,d,65,.5\n10L,d,67,.55\n10L,d,69,.45\n10L,d,71,.5\n10L,d,73,.78\n10L,d,75,.55\n10L,d,77,.45\n10L,d,79,.55\n10L,d,81,.4\n10L,d,83,.38\n10L,d,85,.22\n10L,d,87,.28\n10L,d,89,.22\n10L,d,91,.3\n10L,d,93,.32\n10L,d,95,.45\n10L,d,97,.4\n10L,d,99,.52\n10L,d,100,.5\n11T,r,64.3,\n11T,r,68.3,\n11T,a,0,.03\n11T,a,3,.1\n11T,a,5,.3\n11T,a,7,.45\n11T,a,9,.55\n11T,a,11,.5\n11T,a,13,.4\n11T,a,15,.3\n11T,a,17,.55\n11T,a,18,.8\n11T,a,20,.93\n11T,a,21,.75\n11T,a,23,.72\n11T,a,26,.7\n11T,a,28,.7\n11T,a,30,.72\n11T,a,33,.6\n11T,a,35,.7\n11T,a,37,.45\n11T,a,38,.4\n11T,a,40,.25\n11T,a,43,.15\n11T,a,46,.05\n11T,a,50,.03\n11T,a,55,.03\n11T,a,60,.05\n11T,a,62,.15\n11T,a,64,.1\n11T,a,67,.05\n11T,a,70,.05\n11T,a,75,.08\n11T,a,78,.05\n11T,a,80,.03\n11T,a,90,.02\n11T,a,100,.02\n11T,b,0,.03\n11T,b,5,.15\n11T,b,8,.3\n11T,b,10,.3\n11T,b,12,.28\n11T,b,15,.2\n11T,b,18,.1\n11T,b,20,.06\n11T,b,30,.04\n11T,b,40,.04\n11T,b,50,.04\n11T,b,55,.05\n11T,b,57,.1\n11T,b,59,.2\n11T,b,61,.6\n11T,b,62,.9\n11T,b,63,.7\n11T,b,64,.3\n11T,b,66,.15\n11T,b,70,.2\n11T,b,75,.25\n11T,b,80,.3\n11T,b,83,.2\n11T,b,86,.12\n11T,b,90,.05\n11T,b,100,.03\n11T,c,0,.03\n11T,c,3,.1\n11T,c,5,.2\n11T,c,8,.3\n11T,c,10,.4\n11T,c,11.5,.55\n11T,c,13,.4\n11T,c,15,.3\n11T,c,17,.15\n11T,c,20,.06\n11T,c,25,.04\n11T,c,30,.04\n11T,c,35,.05\n11T,c,40,.04\n11T,c,45,.03\n11T,c,50,.03\n11T,c,55,.1\n11T,c,57,.4\n11T,c,59,.9\n11T,c,60,.97\n11T,c,61,.85\n11T,c,63,.5\n11T,c,65,.3\n11T,c,67,.25\n11T,c,70,.22\n11T,c,72,.25\n11T,c,75,.28\n11T,c,78,.3\n11T,c,80,.25\n11T,c,83,.15\n11T,c,86,.08\n11T,c,90,.05\n11T,c,100,.03\n11T,d,0,.03\n11T,d,2,.05\n11T,d,4,.15\n11T,d,6,.3\n11T,d,7.5,.35\n11T,d,9,.25\n11T,d,11,.28\n11T,d,13,.28\n11T,d,14.5,.2\n11T,d,16,.08\n11T,d,18,.05\n11T,d,20,.04\n11T,d,25,.05\n11T,d,30,.08\n11T,d,33,.1\n11T,d,36,.15\n11T,d,38,.1\n11T,d,40,.05\n11T,d,45,.03\n11T,d,48,.02\n11T,d,50,.1\n11T,d,52,.5\n11T,d,54,.75\n11T,d,56,.9\n11T,d,57.5,.88\n11T,d,59,.97\n11T,d,60,.9\n11T,d,61,.65\n11T,d,63,.3\n11T,d,65,.22\n11T,d,67,.25\n11T,d,69.5,.35\n11T,d,71,.25\n11T,d,73,.3\n11T,d,75,.25\n11T,d,77,.27\n11T,d,79,.2\n11T,d,81,.18\n11T,d,83,.1\n11T,d,86,.06\n11T,d,90,.03\n11T,d,95,.03\n11T,d,100,.04\n11M,r,64.3,\n11M,r,68.5,\n11M,a,0,.02\n11M,a,15,.03\n11M,a,40,.03\n11M,a,60,.02\n11M,a,100,.02\n11M,b,0,.03\n11M,b,5,.08\n11M,b,10,.04\n11M,b,20,.04\n11M,b,30,.03\n11M,b,40,.05\n11M,b,50,.04\n11M,b,60,.03\n11M,b,70,.02\n11M,b,90,.03\n11M,b,100,.02\n11M,c,0,.03\n11M,c,3,.06\n11M,c,5,.15\n11M,c,7,.1\n11M,c,10,.04\n11M,c,15,.03\n11M,c,20,.05\n11M,c,25,.06\n11M,c,30,.05\n11M,c,35,.04\n11M,c,40,.05\n11M,c,45,.03\n11M,c,50,.05\n11M,c,55,.06\n11M,c,60,.05\n11M,c,62,.08\n11M,c,65,.03\n11M,c,70,.02\n11M,c,80,.03\n11M,c,90,.03\n11M,c,100,.02\n11M,d,0,.03\n11M,d,2,.05\n11M,d,3,.3\n11M,d,4.5,.9\n11M,d,5,1\n11M,d,6,.75\n11M,d,7,.35\n11M,d,8,.15\n11M,d,9.5,.25\n11M,d,11,.1\n11M,d,13,.03\n11M,d,15,.02\n11M,d,18,.03\n11M,d,20,.02\n11M,d,25,.02\n11M,d,30,.05\n11M,d,33,.1\n11M,d,35,.2\n11M,d,37,.3\n11M,d,39,.35\n11M,d,40,.33\n11M,d,42,.2\n11M,d,44,.08\n11M,d,46,.04\n11M,d,50,.02\n11M,d,55,.05\n11M,d,58,.05\n11M,d,60,.07\n11M,d,61.5,.24\n11M,d,63,.05\n11M,d,65,.03\n11M,d,70,.02\n11M,d,75,.02\n11M,d,80,.03\n11M,d,85,.02\n11M,d,90,.04\n11M,d,92,.06\n11M,d,95,.02\n11M,d,100,.03\n11L,r,63.2,\n11L,r,67.1,\n11L,a,0,.1\n11L,a,3,.18\n11L,a,6,.12\n11L,a,10,.08\n11L,a,20,.05\n11L,a,30,.05\n11L,a,40,.08\n11L,a,50,.04\n11L,a,60,.05\n11L,a,70,.1\n11L,a,75,.15\n11L,a,80,.12\n11L,a,85,.1\n11L,a,90,.12\n11L,a,95,.1\n11L,a,100,.05\n11L,b,0,.08\n11L,b,3,.15\n11L,b,6,.12\n11L,b,10,.08\n11L,b,15,.06\n11L,b,20,.05\n11L,b,25,.04\n11L,b,30,.06\n11L,b,35,.05\n11L,b,40,.1\n11L,b,45,.06\n11L,b,50,.04\n11L,b,55,.06\n11L,b,60,.05\n11L,b,65,.08\n11L,b,70,.1\n11L,b,75,.12\n11L,b,80,.1\n11L,b,85,.12\n11L,b,90,.1\n11L,b,95,.08\n11L,b,100,.04\n11L,c,0,.05\n11L,c,2,.15\n11L,c,4,.18\n11L,c,6,.15\n11L,c,8,.12\n11L,c,10,.1\n11L,c,15,.08\n11L,c,20,.05\n11L,c,25,.05\n11L,c,30,.04\n11L,c,35,.06\n11L,c,38,.12\n11L,c,40,.15\n11L,c,43,.1\n11L,c,46,.05\n11L,c,50,.05\n11L,c,55,.06\n11L,c,60,.06\n11L,c,63,.08\n11L,c,65,.04\n11L,c,70,.05\n11L,c,75,.08\n11L,c,80,.08\n11L,c,85,.1\n11L,c,88,.12\n11L,c,90,.08\n11L,c,95,.06\n11L,c,100,.05\n11L,d,0,.03\n11L,d,2,.05\n11L,d,4,.45\n11L,d,5,.6\n11L,d,6.5,.7\n11L,d,7.5,1\n11L,d,9,.78\n11L,d,10,.5\n11L,d,11,.25\n11L,d,12,.1\n11L,d,14,.02\n11L,d,16,.04\n11L,d,18,.01\n11L,d,20,.05\n11L,d,23,.02\n11L,d,25,.06\n11L,d,28,.03\n11L,d,30,.05\n11L,d,33,.03\n11L,d,36,.08\n11L,d,38,.18\n11L,d,40,.15\n11L,d,42,.1\n11L,d,44,.15\n11L,d,46,.05\n11L,d,48,.02\n11L,d,50,.03\n11L,d,55,.05\n11L,d,58,.03\n11L,d,60,.08\n11L,d,62,.12\n11L,d,64,.05\n11L,d,66,.02\n11L,d,70,.03\n11L,d,75,.03\n11L,d,80,.02\n11L,d,85,.05\n11L,d,88,.08\n11L,d,90,.1\n11L,d,92,.05\n11L,d,95,.03\n11L,d,100,.05\n12T,r,60.8,\n12T,r,66.7,\n12T,a,0,.01\n12T,a,10,.02\n12T,a,20,.03\n12T,a,30,.05\n12T,a,40,.05\n12T,a,45,.06\n12T,a,50,.08\n12T,a,55,.1\n12T,a,60,.12\n12T,a,65,.08\n12T,a,70,.06\n12T,a,75,.05\n12T,a,80,.03\n12T,a,90,.02\n12T,a,100,.02\n12T,b,0,.01\n12T,b,5,.03\n12T,b,10,.08\n12T,b,15,.08\n12T,b,20,.05\n12T,b,25,.06\n12T,b,30,.08\n12T,b,35,.1\n12T,b,40,.1\n12T,b,45,.12\n12T,b,48,.2\n12T,b,50,.25\n12T,b,52,.3\n12T,b,55,.32\n12T,b,57,.28\n12T,b,60,.15\n12T,b,63,.12\n12T,b,65,.1\n12T,b,70,.1\n12T,b,75,.08\n12T,b,80,.05\n12T,b,85,.04\n12T,b,90,.03\n12T,b,100,.02\n12T,c,0,.02\n12T,c,5,.05\n12T,c,8,.12\n12T,c,10,.2\n12T,c,12,.2\n12T,c,15,.15\n12T,c,18,.22\n12T,c,21,.26\n12T,c,24,.15\n12T,c,27,.18\n12T,c,30,.15\n12T,c,33,.15\n12T,c,36,.15\n12T,c,39,.18\n12T,c,42,.15\n12T,c,45,.2\n12T,c,47,.4\n12T,c,49,.7\n12T,c,51,.85\n12T,c,53,.92\n12T,c,55,.85\n12T,c,57,.6\n12T,c,58.5,.55\n12T,c,60,.92\n12T,c,61,.7\n12T,c,62,.45\n12T,c,64,.35\n12T,c,66,.3\n12T,c,68,.3\n12T,c,70,.22\n12T,c,72,.18\n12T,c,75,.18\n12T,c,78,.23\n12T,c,80,.18\n12T,c,83,.12\n12T,c,86,.08\n12T,c,90,.03\n12T,c,95,.02\n12T,c,100,.04\n12T,d,0,.02\n12T,d,3,.02\n12T,d,5,.1\n12T,d,7,.35\n12T,d,9,.6\n12T,d,10.5,.69\n12T,d,12,.5\n12T,d,14,.45\n12T,d,16,.6\n12T,d,18.5,.75\n12T,d,20,.55\n12T,d,22,.35\n12T,d,24,.22\n12T,d,26.5,.35\n12T,d,28,.25\n12T,d,30,.2\n12T,d,32,.4\n12T,d,34,.3\n12T,d,36,.27\n12T,d,38,.25\n12T,d,40,.28\n12T,d,42,.3\n12T,d,44,.45\n12T,d,46,.6\n12T,d,48,.75\n12T,d,49.5,.98\n12T,d,51,.8\n12T,d,52,.88\n12T,d,54,.7\n12T,d,56,.55\n12T,d,58,.4\n12T,d,60,.3\n12T,d,62,.25\n12T,d,64,.2\n12T,d,66,.2\n12T,d,68,.15\n12T,d,70,.12\n12T,d,72,.1\n12T,d,74,.14\n12T,d,76,.08\n12T,d,78,.12\n12T,d,80,.06\n12T,d,82,.08\n12T,d,85,.04\n12T,d,90,.02\n12T,d,95,.02\n12T,d,100,.04\n12M,r,60.8,\n12M,r,67,\n12M,a,0,.01\n12M,a,30,.02\n12M,a,40,.05\n12M,a,45,.08\n12M,a,50,.08\n12M,a,55,.06\n12M,a,60,.07\n12M,a,65,.08\n12M,a,70,.06\n12M,a,75,.04\n12M,a,80,.03\n12M,a,90,.02\n12M,a,100,.02\n12M,b,0,.02\n12M,b,30,.02\n12M,b,35,.05\n12M,b,40,.1\n12M,b,45,.15\n12M,b,48,.15\n12M,b,50,.12\n12M,b,55,.1\n12M,b,60,.12\n12M,b,63,.15\n12M,b,65,.1\n12M,b,67,.1\n12M,b,70,.07\n12M,b,73,.06\n12M,b,75,.05\n12M,b,78,.06\n12M,b,80,.04\n12M,b,85,.03\n12M,b,90,.02\n12M,b,95,.03\n12M,b,100,.02\n12M,c,0,.02\n12M,c,20,.02\n12M,c,30,.03\n12M,c,35,.1\n12M,c,40,.3\n12M,c,43,.38\n12M,c,46,.4\n12M,c,49,.3\n12M,c,52,.2\n12M,c,55,.15\n12M,c,58,.15\n12M,c,60,.12\n12M,c,62,.1\n12M,c,65,.08\n12M,c,68,.05\n12M,c,70,.03\n12M,c,80,.02\n12M,c,100,.02\n12M,d,0,.02\n12M,d,10,.02\n12M,d,20,.03\n12M,d,23,.05\n12M,d,25,.02\n12M,d,30,.02\n12M,d,33,.05\n12M,d,35,.15\n12M,d,36,.2\n12M,d,38,.25\n12M,d,40,.35\n12M,d,42,.4\n12M,d,44,.45\n12M,d,45,.5\n12M,d,46,.75\n12M,d,47,1\n12M,d,48,.6\n12M,d,50,.35\n12M,d,52,.25\n12M,d,54,.18\n12M,d,56,.15\n12M,d,57.5,.2\n12M,d,58.5,.42\n12M,d,59.5,.25\n12M,d,61,.12\n12M,d,63,.08\n12M,d,65,.05\n12M,d,68,.03\n12M,d,70,.02\n12M,d,100,.02\n12L,r,60.8,\n12L,r,67,\n12L,a,0,.12\n12L,a,5,.1\n12L,a,10,.06\n12L,a,20,.04\n12L,a,30,.03\n12L,a,40,.05\n12L,a,45,.06\n12L,a,50,.08\n12L,a,55,.1\n12L,a,60,.12\n12L,a,63,.12\n12L,a,66,.08\n12L,a,70,.06\n12L,a,80,.05\n12L,a,100,.05\n12L,b,0,.08\n12L,b,10,.06\n12L,b,20,.04\n12L,b,30,.04\n12L,b,40,.08\n12L,b,45,.15\n12L,b,48,.2\n12L,b,50,.25\n12L,b,52,.25\n12L,b,55,.22\n12L,b,58,.18\n12L,b,60,.15\n12L,b,63,.1\n12L,b,66,.08\n12L,b,70,.06\n12L,b,80,.05\n12L,b,100,.05\n12L,c,0,.06\n12L,c,5,.06\n12L,c,10,.08\n12L,c,15,.05\n12L,c,20,.04\n12L,c,30,.04\n12L,c,35,.05\n12L,c,40,.12\n12L,c,43,.3\n12L,c,46,.5\n12L,c,48,.65\n12L,c,50,.6\n12L,c,52,.45\n12L,c,54,.4\n12L,c,56,.3\n12L,c,58,.22\n12L,c,60,.15\n12L,c,62,.12\n12L,c,65,.08\n12L,c,70,.04\n12L,c,80,.03\n12L,c,90,.04\n12L,c,100,.06\n12L,d,0,.1\n12L,d,2,.08\n12L,d,4,.12\n12L,d,6,.05\n12L,d,8,.1\n12L,d,9.5,.2\n12L,d,11,.1\n12L,d,13,.08\n12L,d,15,.03\n12L,d,17,.05\n12L,d,19,.03\n12L,d,21,.02\n12L,d,24,.05\n12L,d,27,.08\n12L,d,30,.04\n12L,d,33,.04\n12L,d,36,.05\n12L,d,38,.1\n12L,d,40,.2\n12L,d,42,.4\n12L,d,44,.7\n12L,d,45.3,1\n12L,d,46,.9\n12L,d,47,.92\n12L,d,48,.88\n12L,d,49,.87\n12L,d,50,.7\n12L,d,52,.55\n12L,d,54,.35\n12L,d,56,.22\n12L,d,58,.15\n12L,d,60,.2\n12L,d,61,.3\n12L,d,63,.42\n12L,d,64.5,.3\n12L,d,66,.12\n12L,d,68,.05\n12L,d,70,.04\n12L,d,72,.1\n12L,d,74,.04\n12L,d,77,.05\n12L,d,80,.03\n12L,d,85,.04\n12L,d,90,.03\n12L,d,94,.06\n12L,d,96,.05\n12L,d,98,.08\n12L,d,100,.1\n"},
"title":{"text":"normalized EMG","orient":"left","anchor":"middle","fontSize":40,"fontWeight":"bold","offset":36,"dx":25,"color":"#111"},
"columns":3,
"spacing":{"row":37,"column":34},
"bounds":"flush",
"config":{
 "font":"Liberation Sans",
 "view":{"stroke":"#666","strokeWidth":1.5},
 "axis":{"grid":false,"domainColor":"#000","domainWidth":1.5,"tickColor":"#000","tickWidth":1.5,"tickSize":10,"labelFontSize":26,"labelColor":"#222","titleColor":"#111","labelOverlap":false},
 "axisX":{"tickCount":6,"labelPadding":13,"labelFlush":false,"labelExpr":"datum.value==0||datum.value==60||datum.value==100?datum.label:''"},
 "axisY":{"tickCount":6,"labelPadding":3,"titleFontSize":29,"titleFontWeight":"bold","titlePadding":21,"labelExpr":"datum.value==0||datum.value==1?format(datum.value,'.1f'):''"},
 "title":{"fontSize":33,"fontWeight":"bold","color":"#111"}
},
"concat":[
{"width":236,"height":108,"title":{"text":"TA","frame":"group","offset":4},"transform":[{"filter":"datum.p=='cT'"}],"encoding":{"x":{"field":"x","type":"quantitative","title":null,"scale":{"domain":[-4,104],"nice":false},"axis":{"labels":false}}},"layer":[{"transform":[{"filter":"datum.s=='r'"}],"mark":{"type":"rule","color":"#707070","strokeWidth":1.2},"encoding":{}},{"transform":[{"filter":"datum.s!='r'"}],"mark":{"type":"line","strokeJoin":"round"},"encoding":{"y":{"field":"y","type":"quantitative","scale":{"domain":[-0.04,1.04],"nice":false},"axis":{"title":"control"}},"color":{"field":"s","type":"ordinal","title":"mean (40 cycles)","scale":{"domain":["d","c","b","a"],"range":["#1c1c1c","#707070","#9a9a9a","#d0d0d0"]},"legend":{"orient":"none","legendX":806,"legendY":2,"titleFontSize":23,"titleFontWeight":"normal","titleColor":"#222","titlePadding":10,"labelFontSize":22,"labelColor":"#222","symbolType":"M-11.5,0H0","symbolSize":400,"symbolOffset":105,"labelOffset":-7,"rowPadding":6,"labelExpr":"datum.label=='d'?'1.6 m/s':datum.label=='c'?'1.3 m/s':datum.label=='b'?'1.0 m/s':'0.7 m/s'","encode":{"symbols":{"update":{"strokeWidth":{"scale":"strokeWidth","field":"value"}}}}}},"strokeWidth":{"field":"s","type":"ordinal","title":"mean (40 cycles)","scale":{"type":"ordinal","domain":["d","c","b","a"],"range":[1.8,2.8,4.2,6.3]},"legend":{"orient":"none","legendX":806,"legendY":2,"titleFontSize":23,"titleFontWeight":"normal","titleColor":"#222","titlePadding":10,"labelFontSize":22,"labelColor":"#222","symbolType":"M-11.5,0H0","symbolSize":400,"symbolOffset":105,"labelOffset":-7,"rowPadding":6,"labelExpr":"datum.label=='d'?'1.6 m/s':datum.label=='c'?'1.3 m/s':datum.label=='b'?'1.0 m/s':'0.7 m/s'","encode":{"symbols":{"update":{"strokeWidth":{"scale":"strokeWidth","field":"value"}}}}}}}}]},
{"width":236,"height":108,"title":{"text":"GASM","frame":"group","offset":13},"transform":[{"filter":"datum.p=='cM'"}],"encoding":{"x":{"field":"x","type":"quantitative","title":null,"scale":{"domain":[-4,104],"nice":false},"axis":{"labels":false}}},"layer":[{"transform":[{"filter":"datum.s=='r'"}],"mark":{"type":"rule","color":"#707070","strokeWidth":1.2},"encoding":{}},{"transform":[{"filter":"datum.s!='r'"}],"mark":{"type":"line","strokeJoin":"round"},"encoding":{"y":{"field":"y","type":"quantitative","scale":{"domain":[-0.04,1.04],"nice":false},"axis":{"labels":false,"title":null}},"color":{"field":"s","type":"ordinal","title":"mean (40 cycles)","scale":{"domain":["d","c","b","a"],"range":["#1c1c1c","#707070","#9a9a9a","#d0d0d0"]}},"strokeWidth":{"field":"s","type":"ordinal","title":"mean (40 cycles)","scale":{"type":"ordinal","domain":["d","c","b","a"],"range":[1.8,2.8,4.2,6.3]}}}}]},
{"width":236,"height":108,"title":{"text":"GASL","frame":"group","offset":13},"transform":[{"filter":"datum.p=='cL'"}],"encoding":{"x":{"field":"x","type":"quantitative","title":null,"scale":{"domain":[-4,104],"nice":false},"axis":{"labels":false}}},"layer":[{"transform":[{"filter":"datum.s=='r'"}],"mark":{"type":"rule","color":"#707070","strokeWidth":1.2},"encoding":{}},{"transform":[{"filter":"datum.s!='r'"}],"mark":{"type":"line","strokeJoin":"round"},"encoding":{"y":{"field":"y","type":"quantitative","scale":{"domain":[-0.04,1.04],"nice":false},"axis":{"labels":false,"title":null}},"color":{"field":"s","type":"ordinal","title":"mean (40 cycles)","scale":{"domain":["d","c","b","a"],"range":["#1c1c1c","#707070","#9a9a9a","#d0d0d0"]}},"strokeWidth":{"field":"s","type":"ordinal","title":"mean (40 cycles)","scale":{"type":"ordinal","domain":["d","c","b","a"],"range":[1.8,2.8,4.2,6.3]}}}}]},
{"width":236,"height":108,"transform":[{"filter":"datum.p=='1T'"}],"encoding":{"x":{"field":"x","type":"quantitative","title":null,"scale":{"domain":[-4,104],"nice":false},"axis":{"labels":false}}},"layer":[{"transform":[{"filter":"datum.s=='r'"}],"mark":{"type":"rule","color":"#707070","strokeWidth":1.2},"encoding":{}},{"transform":[{"filter":"datum.s!='r'"}],"mark":{"type":"line","strokeJoin":"round"},"encoding":{"y":{"field":"y","type":"quantitative","scale":{"domain":[-0.04,1.04],"nice":false},"axis":{"title":"A01"}},"color":{"field":"s","type":"ordinal","title":"mean (40 cycles)","scale":{"domain":["d","c","b","a"],"range":["#1c1c1c","#707070","#9a9a9a","#d0d0d0"]}},"strokeWidth":{"field":"s","type":"ordinal","title":"mean (40 cycles)","scale":{"type":"ordinal","domain":["d","c","b","a"],"range":[1.8,2.8,4.2,6.3]}}}}]},
{"width":236,"height":108,"transform":[{"filter":"datum.p=='1M'"}],"encoding":{"x":{"field":"x","type":"quantitative","title":null,"scale":{"domain":[-4,104],"nice":false},"axis":{"labels":false}}},"layer":[{"transform":[{"filter":"datum.s=='r'"}],"mark":{"type":"rule","color":"#707070","strokeWidth":1.2},"encoding":{}},{"transform":[{"filter":"datum.s!='r'"}],"mark":{"type":"line","strokeJoin":"round"},"encoding":{"y":{"field":"y","type":"quantitative","scale":{"domain":[-0.04,1.04],"nice":false},"axis":{"labels":false,"title":null}},"color":{"field":"s","type":"ordinal","title":"mean (40 cycles)","scale":{"domain":["d","c","b","a"],"range":["#1c1c1c","#707070","#9a9a9a","#d0d0d0"]}},"strokeWidth":{"field":"s","type":"ordinal","title":"mean (40 cycles)","scale":{"type":"ordinal","domain":["d","c","b","a"],"range":[1.8,2.8,4.2,6.3]}}}}]},
{"width":236,"height":108,"transform":[{"filter":"datum.p=='1L'"}],"encoding":{"x":{"field":"x","type":"quantitative","title":null,"scale":{"domain":[-4,104],"nice":false},"axis":{"labels":false}}},"layer":[{"transform":[{"filter":"datum.s=='r'"}],"mark":{"type":"rule","color":"#707070","strokeWidth":1.2},"encoding":{}},{"transform":[{"filter":"datum.s!='r'"}],"mark":{"type":"line","strokeJoin":"round"},"encoding":{"y":{"field":"y","type":"quantitative","scale":{"domain":[-0.04,1.04],"nice":false},"axis":{"labels":false,"title":null}},"color":{"field":"s","type":"ordinal","title":"mean (40 cycles)","scale":{"domain":["d","c","b","a"],"range":["#1c1c1c","#707070","#9a9a9a","#d0d0d0"]}},"strokeWidth":{"field":"s","type":"ordinal","title":"mean (40 cycles)","scale":{"type":"ordinal","domain":["d","c","b","a"],"range":[1.8,2.8,4.2,6.3]}}}}]},
{"width":236,"height":108,"transform":[{"filter":"datum.p=='2T'"}],"encoding":{"x":{"field":"x","type":"quantitative","title":null,"scale":{"domain":[-4,104],"nice":false},"axis":{"labels":false}}},"layer":[{"transform":[{"filter":"datum.s=='r'"}],"mark":{"type":"rule","color":"#707070","strokeWidth":1.2},"encoding":{}},{"transform":[{"filter":"datum.s!='r'"}],"mark":{"type":"line","strokeJoin":"round"},"encoding":{"y":{"field":"y","type":"quantitative","scale":{"domain":[-0.04,1.04],"nice":false},"axis":{"title":"A02"}},"color":{"field":"s","type":"ordinal","title":"mean (40 cycles)","scale":{"domain":["d","c","b","a"],"range":["#1c1c1c","#707070","#9a9a9a","#d0d0d0"]}},"strokeWidth":{"field":"s","type":"ordinal","title":"mean (40 cycles)","scale":{"type":"ordinal","domain":["d","c","b","a"],"range":[1.8,2.8,4.2,6.3]}}}}]},
{"width":236,"height":108,"transform":[{"filter":"datum.p=='2M'"}],"encoding":{"x":{"field":"x","type":"quantitative","title":null,"scale":{"domain":[-4,104],"nice":false},"axis":{"labels":false}}},"layer":[{"transform":[{"filter":"datum.s=='r'"}],"mark":{"type":"rule","color":"#707070","strokeWidth":1.2},"encoding":{}},{"transform":[{"filter":"datum.s!='r'"}],"mark":{"type":"line","strokeJoin":"round"},"encoding":{"y":{"field":"y","type":"quantitative","scale":{"domain":[-0.04,1.04],"nice":false},"axis":{"labels":false,"title":null}},"color":{"field":"s","type":"ordinal","title":"mean (40 cycles)","scale":{"domain":["d","c","b","a"],"range":["#1c1c1c","#707070","#9a9a9a","#d0d0d0"]}},"strokeWidth":{"field":"s","type":"ordinal","title":"mean (40 cycles)","scale":{"type":"ordinal","domain":["d","c","b","a"],"range":[1.8,2.8,4.2,6.3]}}}}]},
{"width":236,"height":108,"transform":[{"filter":"datum.p=='2L'"}],"encoding":{"x":{"field":"x","type":"quantitative","title":null,"scale":{"domain":[-4,104],"nice":false},"axis":{"labels":false}}},"layer":[{"transform":[{"filter":"datum.s=='r'"}],"mark":{"type":"rule","color":"#707070","strokeWidth":1.2},"encoding":{}},{"transform":[{"filter":"datum.s!='r'"}],"mark":{"type":"line","strokeJoin":"round"},"encoding":{"y":{"field":"y","type":"quantitative","scale":{"domain":[-0.04,1.04],"nice":false},"axis":{"labels":false,"title":null}},"color":{"field":"s","type":"ordinal","title":"mean (40 cycles)","scale":{"domain":["d","c","b","a"],"range":["#1c1c1c","#707070","#9a9a9a","#d0d0d0"]}},"strokeWidth":{"field":"s","type":"ordinal","title":"mean (40 cycles)","scale":{"type":"ordinal","domain":["d","c","b","a"],"range":[1.8,2.8,4.2,6.3]}}}}]},
{"width":236,"height":108,"transform":[{"filter":"datum.p=='3T'"}],"encoding":{"x":{"field":"x","type":"quantitative","title":null,"scale":{"domain":[-4,104],"nice":false},"axis":{"labels":false}}},"layer":[{"transform":[{"filter":"datum.s=='r'"}],"mark":{"type":"rule","color":"#707070","strokeWidth":1.2},"encoding":{}},{"transform":[{"filter":"datum.s!='r'"}],"mark":{"type":"line","strokeJoin":"round"},"encoding":{"y":{"field":"y","type":"quantitative","scale":{"domain":[-0.04,1.04],"nice":false},"axis":{"title":"A03"}},"color":{"field":"s","type":"ordinal","title":"mean (40 cycles)","scale":{"domain":["d","c","b","a"],"range":["#1c1c1c","#707070","#9a9a9a","#d0d0d0"]}},"strokeWidth":{"field":"s","type":"ordinal","title":"mean (40 cycles)","scale":{"type":"ordinal","domain":["d","c","b","a"],"range":[1.8,2.8,4.2,6.3]}}}}]},
{"width":236,"height":108,"transform":[{"filter":"datum.p=='3M'"}],"encoding":{"x":{"field":"x","type":"quantitative","title":null,"scale":{"domain":[-4,104],"nice":false},"axis":{"labels":false}}},"layer":[{"transform":[{"filter":"datum.s=='r'"}],"mark":{"type":"rule","color":"#707070","strokeWidth":1.2},"encoding":{}},{"transform":[{"filter":"datum.s!='r'"}],"mark":{"type":"line","strokeJoin":"round"},"encoding":{"y":{"field":"y","type":"quantitative","scale":{"domain":[-0.04,1.04],"nice":false},"axis":{"labels":false,"title":null}},"color":{"field":"s","type":"ordinal","title":"mean (40 cycles)","scale":{"domain":["d","c","b","a"],"range":["#1c1c1c","#707070","#9a9a9a","#d0d0d0"]}},"strokeWidth":{"field":"s","type":"ordinal","title":"mean (40 cycles)","scale":{"type":"ordinal","domain":["d","c","b","a"],"range":[1.8,2.8,4.2,6.3]}}}}]},
{"width":236,"height":108,"transform":[{"filter":"datum.p=='3L'"}],"encoding":{"x":{"field":"x","type":"quantitative","title":null,"scale":{"domain":[-4,104],"nice":false},"axis":{"labels":false}}},"layer":[{"transform":[{"filter":"datum.s=='r'"}],"mark":{"type":"rule","color":"#707070","strokeWidth":1.2},"encoding":{}},{"transform":[{"filter":"datum.s!='r'"}],"mark":{"type":"line","strokeJoin":"round"},"encoding":{"y":{"field":"y","type":"quantitative","scale":{"domain":[-0.04,1.04],"nice":false},"axis":{"labels":false,"title":null}},"color":{"field":"s","type":"ordinal","title":"mean (40 cycles)","scale":{"domain":["d","c","b","a"],"range":["#1c1c1c","#707070","#9a9a9a","#d0d0d0"]}},"strokeWidth":{"field":"s","type":"ordinal","title":"mean (40 cycles)","scale":{"type":"ordinal","domain":["d","c","b","a"],"range":[1.8,2.8,4.2,6.3]}}}}]},
{"width":236,"height":108,"transform":[{"filter":"datum.p=='7T'"}],"encoding":{"x":{"field":"x","type":"quantitative","title":null,"scale":{"domain":[-4,104],"nice":false},"axis":{"labels":false}}},"layer":[{"transform":[{"filter":"datum.s=='r'"}],"mark":{"type":"rule","color":"#707070","strokeWidth":1.2},"encoding":{}},{"transform":[{"filter":"datum.s!='r'"}],"mark":{"type":"line","strokeJoin":"round"},"encoding":{"y":{"field":"y","type":"quantitative","scale":{"domain":[-0.04,1.04],"nice":false},"axis":{"title":"A07"}},"color":{"field":"s","type":"ordinal","title":"mean (40 cycles)","scale":{"domain":["d","c","b","a"],"range":["#1c1c1c","#707070","#9a9a9a","#d0d0d0"]}},"strokeWidth":{"field":"s","type":"ordinal","title":"mean (40 cycles)","scale":{"type":"ordinal","domain":["d","c","b","a"],"range":[1.8,2.8,4.2,6.3]}}}}]},
{"width":236,"height":108,"transform":[{"filter":"datum.p=='7M'"}],"encoding":{"x":{"field":"x","type":"quantitative","title":null,"scale":{"domain":[-4,104],"nice":false},"axis":{"labels":false}}},"layer":[{"transform":[{"filter":"datum.s=='r'"}],"mark":{"type":"rule","color":"#707070","strokeWidth":1.2},"encoding":{}},{"transform":[{"filter":"datum.s!='r'"}],"mark":{"type":"line","strokeJoin":"round"},"encoding":{"y":{"field":"y","type":"quantitative","scale":{"domain":[-0.04,1.04],"nice":false},"axis":{"labels":false,"title":null}},"color":{"field":"s","type":"ordinal","title":"mean (40 cycles)","scale":{"domain":["d","c","b","a"],"range":["#1c1c1c","#707070","#9a9a9a","#d0d0d0"]}},"strokeWidth":{"field":"s","type":"ordinal","title":"mean (40 cycles)","scale":{"type":"ordinal","domain":["d","c","b","a"],"range":[1.8,2.8,4.2,6.3]}}}}]},
{"width":236,"height":108,"transform":[{"filter":"datum.p=='7L'"}],"encoding":{"x":{"field":"x","type":"quantitative","title":null,"scale":{"domain":[-4,104],"nice":false},"axis":{"labels":false}}},"layer":[{"transform":[{"filter":"datum.s=='r'"}],"mark":{"type":"rule","color":"#707070","strokeWidth":1.2},"encoding":{}},{"transform":[{"filter":"datum.s!='r'"}],"mark":{"type":"line","strokeJoin":"round"},"encoding":{"y":{"field":"y","type":"quantitative","scale":{"domain":[-0.04,1.04],"nice":false},"axis":{"labels":false,"title":null}},"color":{"field":"s","type":"ordinal","title":"mean (40 cycles)","scale":{"domain":["d","c","b","a"],"range":["#1c1c1c","#707070","#9a9a9a","#d0d0d0"]}},"strokeWidth":{"field":"s","type":"ordinal","title":"mean (40 cycles)","scale":{"type":"ordinal","domain":["d","c","b","a"],"range":[1.8,2.8,4.2,6.3]}}}}]},
{"width":236,"height":108,"transform":[{"filter":"datum.p=='10T'"}],"encoding":{"x":{"field":"x","type":"quantitative","title":null,"scale":{"domain":[-4,104],"nice":false},"axis":{"labels":false}}},"layer":[{"transform":[{"filter":"datum.s=='r'"}],"mark":{"type":"rule","color":"#707070","strokeWidth":1.2},"encoding":{}},{"transform":[{"filter":"datum.s!='r'"}],"mark":{"type":"line","strokeJoin":"round"},"encoding":{"y":{"field":"y","type":"quantitative","scale":{"domain":[-0.04,1.04],"nice":false},"axis":{"title":"A10"}},"color":{"field":"s","type":"ordinal","title":"mean (40 cycles)","scale":{"domain":["d","c","b","a"],"range":["#1c1c1c","#707070","#9a9a9a","#d0d0d0"]}},"strokeWidth":{"field":"s","type":"ordinal","title":"mean (40 cycles)","scale":{"type":"ordinal","domain":["d","c","b","a"],"range":[1.8,2.8,4.2,6.3]}}}}]},
{"width":236,"height":108,"transform":[{"filter":"datum.p=='10M'"}],"encoding":{"x":{"field":"x","type":"quantitative","title":null,"scale":{"domain":[-4,104],"nice":false},"axis":{"labels":false}}},"layer":[{"transform":[{"filter":"datum.s=='r'"}],"mark":{"type":"rule","color":"#707070","strokeWidth":1.2},"encoding":{}},{"transform":[{"filter":"datum.s!='r'"}],"mark":{"type":"line","strokeJoin":"round"},"encoding":{"y":{"field":"y","type":"quantitative","scale":{"domain":[-0.04,1.04],"nice":false},"axis":{"labels":false,"title":null}},"color":{"field":"s","type":"ordinal","title":"mean (40 cycles)","scale":{"domain":["d","c","b","a"],"range":["#1c1c1c","#707070","#9a9a9a","#d0d0d0"]}},"strokeWidth":{"field":"s","type":"ordinal","title":"mean (40 cycles)","scale":{"type":"ordinal","domain":["d","c","b","a"],"range":[1.8,2.8,4.2,6.3]}}}}]},
{"width":236,"height":108,"transform":[{"filter":"datum.p=='10L'"}],"encoding":{"x":{"field":"x","type":"quantitative","title":null,"scale":{"domain":[-4,104],"nice":false},"axis":{"labels":false}}},"layer":[{"transform":[{"filter":"datum.s=='r'"}],"mark":{"type":"rule","color":"#707070","strokeWidth":1.2},"encoding":{}},{"transform":[{"filter":"datum.s!='r'"}],"mark":{"type":"line","strokeJoin":"round"},"encoding":{"y":{"field":"y","type":"quantitative","scale":{"domain":[-0.04,1.04],"nice":false},"axis":{"labels":false,"title":null}},"color":{"field":"s","type":"ordinal","title":"mean (40 cycles)","scale":{"domain":["d","c","b","a"],"range":["#1c1c1c","#707070","#9a9a9a","#d0d0d0"]}},"strokeWidth":{"field":"s","type":"ordinal","title":"mean (40 cycles)","scale":{"type":"ordinal","domain":["d","c","b","a"],"range":[1.8,2.8,4.2,6.3]}}}}]},
{"width":236,"height":108,"transform":[{"filter":"datum.p=='11T'"}],"encoding":{"x":{"field":"x","type":"quantitative","title":null,"scale":{"domain":[-4,104],"nice":false},"axis":{"labels":false}}},"layer":[{"transform":[{"filter":"datum.s=='r'"}],"mark":{"type":"rule","color":"#707070","strokeWidth":1.2},"encoding":{}},{"transform":[{"filter":"datum.s!='r'"}],"mark":{"type":"line","strokeJoin":"round"},"encoding":{"y":{"field":"y","type":"quantitative","scale":{"domain":[-0.04,1.04],"nice":false},"axis":{"title":"A11"}},"color":{"field":"s","type":"ordinal","title":"mean (40 cycles)","scale":{"domain":["d","c","b","a"],"range":["#1c1c1c","#707070","#9a9a9a","#d0d0d0"]}},"strokeWidth":{"field":"s","type":"ordinal","title":"mean (40 cycles)","scale":{"type":"ordinal","domain":["d","c","b","a"],"range":[1.8,2.8,4.2,6.3]}}}}]},
{"width":236,"height":108,"transform":[{"filter":"datum.p=='11M'"}],"encoding":{"x":{"field":"x","type":"quantitative","title":null,"scale":{"domain":[-4,104],"nice":false},"axis":{"labels":false}}},"layer":[{"transform":[{"filter":"datum.s=='r'"}],"mark":{"type":"rule","color":"#707070","strokeWidth":1.2},"encoding":{}},{"transform":[{"filter":"datum.s!='r'"}],"mark":{"type":"line","strokeJoin":"round"},"encoding":{"y":{"field":"y","type":"quantitative","scale":{"domain":[-0.04,1.04],"nice":false},"axis":{"labels":false,"title":null}},"color":{"field":"s","type":"ordinal","title":"mean (40 cycles)","scale":{"domain":["d","c","b","a"],"range":["#1c1c1c","#707070","#9a9a9a","#d0d0d0"]}},"strokeWidth":{"field":"s","type":"ordinal","title":"mean (40 cycles)","scale":{"type":"ordinal","domain":["d","c","b","a"],"range":[1.8,2.8,4.2,6.3]}}}}]},
{"width":236,"height":108,"transform":[{"filter":"datum.p=='11L'"}],"encoding":{"x":{"field":"x","type":"quantitative","title":null,"scale":{"domain":[-4,104],"nice":false},"axis":{"labels":false}}},"layer":[{"transform":[{"filter":"datum.s=='r'"}],"mark":{"type":"rule","color":"#707070","strokeWidth":1.2},"encoding":{}},{"transform":[{"filter":"datum.s!='r'"}],"mark":{"type":"line","strokeJoin":"round"},"encoding":{"y":{"field":"y","type":"quantitative","scale":{"domain":[-0.04,1.04],"nice":false},"axis":{"labels":false,"title":null}},"color":{"field":"s","type":"ordinal","title":"mean (40 cycles)","scale":{"domain":["d","c","b","a"],"range":["#1c1c1c","#707070","#9a9a9a","#d0d0d0"]}},"strokeWidth":{"field":"s","type":"ordinal","title":"mean (40 cycles)","scale":{"type":"ordinal","domain":["d","c","b","a"],"range":[1.8,2.8,4.2,6.3]}}}}]},
{"width":236,"height":108,"transform":[{"filter":"datum.p=='12T'"}],"encoding":{"x":{"field":"x","type":"quantitative","title":null,"scale":{"domain":[-4,104],"nice":false}}},"layer":[{"transform":[{"filter":"datum.s=='r'"}],"mark":{"type":"rule","color":"#707070","strokeWidth":1.2},"encoding":{}},{"transform":[{"filter":"datum.s!='r'"}],"mark":{"type":"line","strokeJoin":"round"},"encoding":{"y":{"field":"y","type":"quantitative","scale":{"domain":[-0.04,1.04],"nice":false},"axis":{"title":"A12"}},"color":{"field":"s","type":"ordinal","title":"mean (40 cycles)","scale":{"domain":["d","c","b","a"],"range":["#1c1c1c","#707070","#9a9a9a","#d0d0d0"]}},"strokeWidth":{"field":"s","type":"ordinal","title":"mean (40 cycles)","scale":{"type":"ordinal","domain":["d","c","b","a"],"range":[1.8,2.8,4.2,6.3]}}}}]},
{"width":236,"height":108,"transform":[{"filter":"datum.p=='12M'"}],"encoding":{"x":{"field":"x","type":"quantitative","scale":{"domain":[-4,104],"nice":false},"axis":{"title":"gait cycle (%)","titleFontSize":38,"titleFontWeight":"bold","titlePadding":28,"titleX":101}}},"layer":[{"transform":[{"filter":"datum.s=='r'"}],"mark":{"type":"rule","color":"#707070","strokeWidth":1.2},"encoding":{}},{"transform":[{"filter":"datum.s!='r'"}],"mark":{"type":"line","strokeJoin":"round"},"encoding":{"y":{"field":"y","type":"quantitative","scale":{"domain":[-0.04,1.04],"nice":false},"axis":{"labels":false,"title":null}},"color":{"field":"s","type":"ordinal","title":"mean (40 cycles)","scale":{"domain":["d","c","b","a"],"range":["#1c1c1c","#707070","#9a9a9a","#d0d0d0"]}},"strokeWidth":{"field":"s","type":"ordinal","title":"mean (40 cycles)","scale":{"type":"ordinal","domain":["d","c","b","a"],"range":[1.8,2.8,4.2,6.3]}}}}]},
{"width":236,"height":108,"transform":[{"filter":"datum.p=='12L'"}],"encoding":{"x":{"field":"x","type":"quantitative","title":null,"scale":{"domain":[-4,104],"nice":false}}},"layer":[{"transform":[{"filter":"datum.s=='r'"}],"mark":{"type":"rule","color":"#707070","strokeWidth":1.2},"encoding":{}},{"transform":[{"filter":"datum.s!='r'"}],"mark":{"type":"line","strokeJoin":"round"},"encoding":{"y":{"field":"y","type":"quantitative","scale":{"domain":[-0.04,1.04],"nice":false},"axis":{"labels":false,"title":null}},"color":{"field":"s","type":"ordinal","title":"mean (40 cycles)","scale":{"domain":["d","c","b","a"],"range":["#1c1c1c","#707070","#9a9a9a","#d0d0d0"]}},"strokeWidth":{"field":"s","type":"ordinal","title":"mean (40 cycles)","scale":{"type":"ordinal","domain":["d","c","b","a"],"range":[1.8,2.8,4.2,6.3]}}}}]}
]
}
